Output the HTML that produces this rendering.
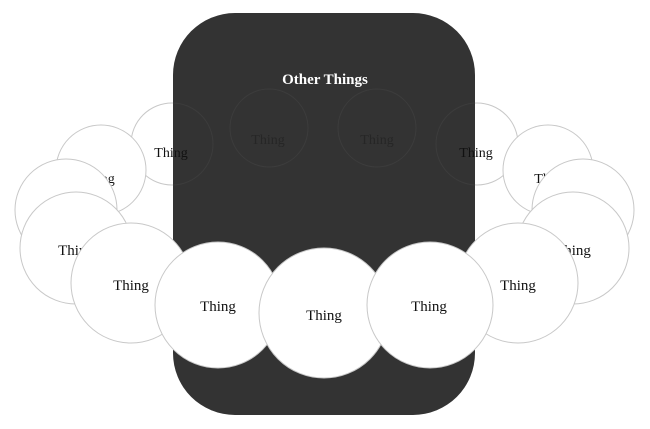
<!DOCTYPE html>
<html><head><meta charset="utf-8"><style>
html,body{margin:0;padding:0;background:#fff;width:650px;height:429px;overflow:hidden}
svg{display:block}
text{font-family:"Liberation Serif",serif;text-anchor:middle}
.c{fill:#fff;stroke:#c8c8c8;stroke-width:1}
.t{font-size:15px;fill:#111}
.s{font-size:14px;fill:#111}
</style></head><body>
<svg width="650" height="429" viewBox="0 0 650 429" xmlns="http://www.w3.org/2000/svg">
<defs><clipPath id="r"><rect x="173" y="13" width="302" height="402" rx="62" ry="62"/></clipPath></defs>
<circle class="c" cx="172" cy="144" r="41"/>
<circle class="c" cx="477" cy="144" r="41"/>
<rect x="173" y="13" width="302" height="402" rx="62" ry="62" fill="#333"/>
<g clip-path="url(#r)" fill="none" stroke="#3c3c3c">
<circle cx="172" cy="144" r="41"/>
<circle cx="477" cy="144" r="41"/>
<circle cx="269" cy="128" r="39"/>
<circle cx="377" cy="128" r="39"/>
</g>
<text x="268" y="144" class="s" style="fill:#262626">Thing</text>
<text x="377" y="144" class="s" style="fill:#262626">Thing</text>
<text x="171" y="157" class="s">Thing</text>
<text x="476" y="157" class="s">Thing</text>
<text x="325" y="84" style="font-size:15px;font-weight:bold;fill:#fff">Other Things</text>

<circle class="c" cx="101" cy="170" r="45"/><text x="98" y="183" class="s">Thing</text>
<circle class="c" cx="548" cy="170" r="45"/><text x="551" y="183" class="s">Thing</text>
<circle class="c" cx="66" cy="210" r="51"/><text x="66" y="223" class="s">Thing</text>
<circle class="c" cx="583" cy="210" r="51"/><text x="583" y="223" class="s">Thing</text>
<circle class="c" cx="76" cy="248" r="56"/><text x="76" y="255" class="t">Thing</text>
<circle class="c" cx="573" cy="248" r="56"/><text x="573" y="255" class="t">Thing</text>
<circle class="c" cx="131" cy="283" r="60"/><text x="131" y="290" class="t">Thing</text>
<circle class="c" cx="518" cy="283" r="60"/><text x="518" y="290" class="t">Thing</text>
<circle class="c" cx="218" cy="305" r="63"/><text x="218" y="311" class="t">Thing</text>
<circle class="c" cx="324" cy="313" r="65"/><text x="324" y="320" class="t">Thing</text>
<circle class="c" cx="430" cy="305" r="63"/><text x="429" y="311" class="t">Thing</text>
</svg>
</body></html>
